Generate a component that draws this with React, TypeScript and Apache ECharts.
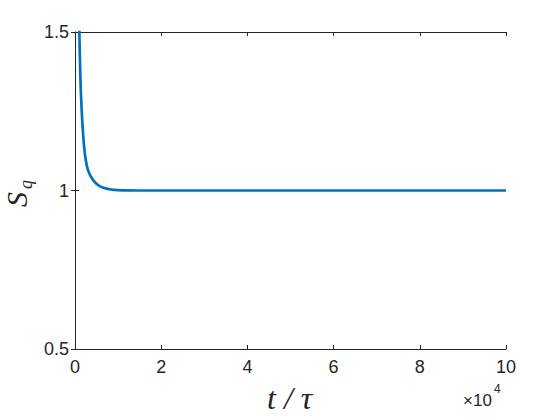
import React, { useEffect, useRef } from "react";
import * as echarts from "echarts";

// time in units of 1e4 * tau
const tValues = [0, 0.05, 0.1, 0.116, 0.139, 0.179, 0.232, 0.309, 0.425, 0.58, 0.8, 1.0, 1.5, 2, 4, 6, 8, 10];
const sValues = [2.35, 1.9, 1.51, 1.407, 1.302, 1.197, 1.113, 1.061, 1.032, 1.013, 1.004, 1.001, 1.0, 1.0, 1.0, 1.0, 1.0, 1.0];
const xTicks = [0, 2, 4, 6, 8, 10];
const yTicks = [0.5, 1, 1.5];

const textColor = "#262626";
const lineColor = "#0072BD";
const sans = "Liberation Sans, Arial, sans-serif";
const serif = "Liberation Serif, DejaVu Serif, serif";

export default function App() {
  const ref = useRef<HTMLDivElement>(null);
  useEffect(() => {
    if (!ref.current) return;
    const chart = echarts.init(ref.current, null, { renderer: "svg" });
    const data = tValues.map((t, i) => [t, sValues[i]]);
    const axisCommon = {
      axisLine: { show: true, lineStyle: { color: textColor, width: 1 } },
      axisTick: { show: true, inside: true, length: 4, lineStyle: { color: textColor } },
      splitLine: { show: false },
    };
    chart.setOption({
      animation: false,
      backgroundColor: "#ffffff",
      grid: { left: 75, right: 54, top: 32, bottom: 71, containLabel: false },
      xAxis: [
        {
          type: "value",
          min: 0,
          max: 10,
          interval: 2,
          position: "bottom",
          ...axisCommon,
          axisLabel: {
            color: textColor,
            fontSize: 18,
            fontFamily: sans,
            margin: 9,
            formatter: (v: number) => (xTicks.includes(v) ? String(v) : ""),
          },
        },
        {
          type: "value",
          min: 0,
          max: 10,
          interval: 2,
          position: "top",
          ...axisCommon,
          axisLabel: { show: false },
        },
      ],
      yAxis: [
        {
          type: "value",
          min: 0.5,
          max: 1.5,
          interval: 0.5,
          position: "left",
          ...axisCommon,
          axisLabel: {
            color: textColor,
            fontSize: 18,
            fontFamily: sans,
            margin: 6,
            formatter: (v: number) => (yTicks.includes(v) ? String(v) : ""),
          },
        },
        {
          type: "value",
          min: 0.5,
          max: 1.5,
          interval: 0.5,
          position: "right",
          ...axisCommon,
          axisLabel: { show: false },
        },
      ],
      series: [
        {
          type: "line",
          data,
          smooth: 0.4,
          showSymbol: false,
          clip: true,
          lineStyle: { color: lineColor, width: 2.7 },
          itemStyle: { color: lineColor },
        },
      ],
      graphic: [
        {
          type: "text",
          left: 267,
          top: 382,
          style: {
            text: "t / τ",
            fontSize: 32,
            fontStyle: "italic",
            fontFamily: serif,
            fill: textColor,
          },
        },
        {
          type: "text",
          left: 463,
          top: 392,
          style: {
            text: "×10",
            fontSize: 17,
            fontFamily: sans,
            fill: textColor,
          },
        },
        {
          type: "text",
          left: 494,
          top: 383,
          style: {
            text: "4",
            fontSize: 12,
            fontFamily: sans,
            fill: textColor,
          },
        },
        {
          type: "group",
          x: 1,
          y: 207,
          rotation: Math.PI / 2,
          children: [
            {
              type: "text",
              x: 0,
              y: 0,
              style: {
                text: "S",
                fontSize: 30,
                fontStyle: "italic",
                fontFamily: serif,
                fill: textColor,
                verticalAlign: "top",
              },
            },
            {
              type: "text",
              x: 18,
              y: 16,
              style: {
                text: "q",
                fontSize: 18,
                fontStyle: "italic",
                fontFamily: serif,
                fill: textColor,
                verticalAlign: "top",
              },
            },
          ],
        },
      ],
    });
    return () => chart.dispose();
  }, []);
  return (
    <div
      ref={ref}
      style={{ position: "absolute", left: 0, top: 0, width: 560, height: 420 }}
    />
  );
}
